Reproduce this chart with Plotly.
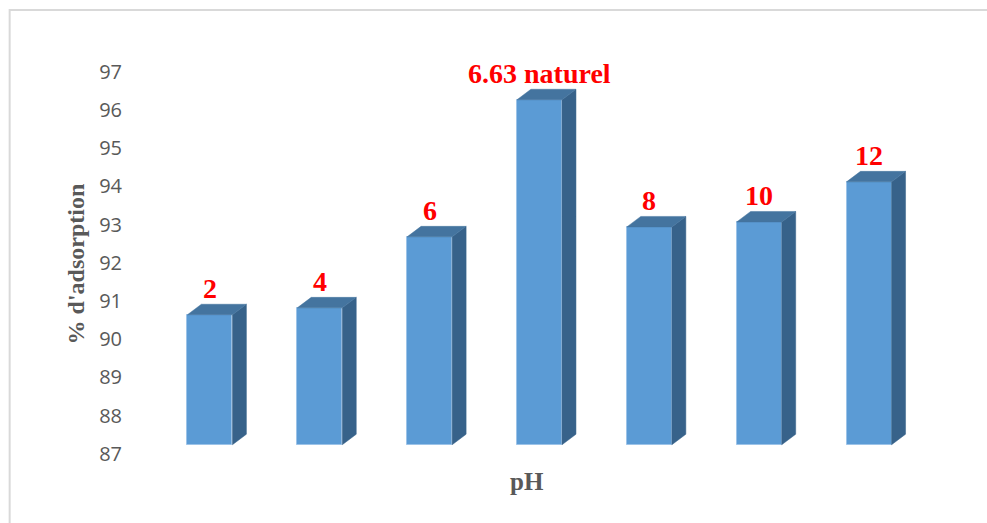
import plotly.graph_objects as go

# Adsorption percentage for each pH tested
ph_labels = ["2", "4", "6", "6.63 naturel", "8", "10", "12"]
adsorption = [90.64, 90.82, 92.68, 96.27, 92.94, 93.07, 94.12]
y_ticks = list(range(87, 98))

# 3D projection settings (in axis units)
FLOOR = 87.236       # front-face floor level after depth projection
BAR_W = 0.41         # front face width
DEPTH_X = 0.127      # horizontal shift of the back edges
DEPTH_Y = 0.275      # vertical shift of the back edges

FRONT = "#5B9BD5"
TOP = "#44749F"
SIDE = "#37628A"
GREY = "#595959"

xs = list(range(len(adsorption)))

fig = go.Figure()

# front faces
fig.add_trace(go.Bar(
    x=xs,
    y=[v - FLOOR for v in adsorption],
    base=FLOOR,
    width=BAR_W,
    marker=dict(color=FRONT, line=dict(color="#9CC3E8", width=1)),
    hoverinfo="skip",
    showlegend=False,
))

# side and top faces as closed polygons
side_x, side_y, top_x, top_y = [], [], [], []
for x, v in zip(xs, adsorption):
    r = x + BAR_W / 2
    l = x - BAR_W / 2
    side_x += [r, r + DEPTH_X, r + DEPTH_X, r, r, None]
    side_y += [FLOOR, FLOOR + DEPTH_Y, v + DEPTH_Y, v, FLOOR, None]
    top_x += [l, l + DEPTH_X, r + DEPTH_X, r, l, None]
    top_y += [v, v + DEPTH_Y, v + DEPTH_Y, v, v, None]

fig.add_trace(go.Scatter(
    x=side_x, y=side_y, mode="lines", fill="toself",
    fillcolor=SIDE, line=dict(color=SIDE, width=0.5),
    hoverinfo="skip", showlegend=False,
))
fig.add_trace(go.Scatter(
    x=top_x, y=top_y, mode="lines", fill="toself",
    fillcolor=TOP, line=dict(color=TOP, width=0.5),
    hoverinfo="skip", showlegend=False,
))

# pH labels above the bars
for x, v, lab in zip(xs, adsorption, ph_labels):
    fig.add_annotation(
        x=x, y=v, text=lab, showarrow=False,
        xanchor="center", yanchor="bottom", yshift=9,
        font=dict(family="Liberation Serif", size=28, color="#FF0000", weight="bold"),
    )

# axis titles
fig.add_annotation(
    xref="paper", yref="paper", x=0.4838, y=-0.030,
    text="pH", showarrow=False, xanchor="center", yanchor="middle",
    font=dict(family="Liberation Serif", size=25, color=GREY, weight="bold"),
)
fig.add_annotation(
    xref="paper", yref="paper", x=-0.1032, y=0.4886,
    text="% d'adsorption", showarrow=False, textangle=-90,
    xanchor="center", yanchor="middle",
    font=dict(family="Liberation Serif", size=24, color=GREY, weight="bold"),
)

# chart frame
fig.add_shape(
    type="rect", xref="paper", yref="paper",
    x0=-0.189, y0=-0.3, x1=1.3, y1=1.093,
    line=dict(color="#D9D9D9", width=2), fillcolor="rgba(0,0,0,0)",
    layer="below",
)

fig.update_xaxes(range=[-0.5, 6.5], visible=False)
fig.update_yaxes(
    range=[86.6, 97.6], tickvals=y_ticks,
    showgrid=False, zeroline=False, showline=False,
    ticklabelstandoff=32,
    tickfont=dict(family="Open Sans", size=20, color=GREY),
)

fig.update_layout(
    width=987, height=523,
    margin=dict(l=154.5, r=62.5, t=49, b=53.7),
    paper_bgcolor="white", plot_bgcolor="white",
    bargap=0,
)

fig.write_html("out.html")
